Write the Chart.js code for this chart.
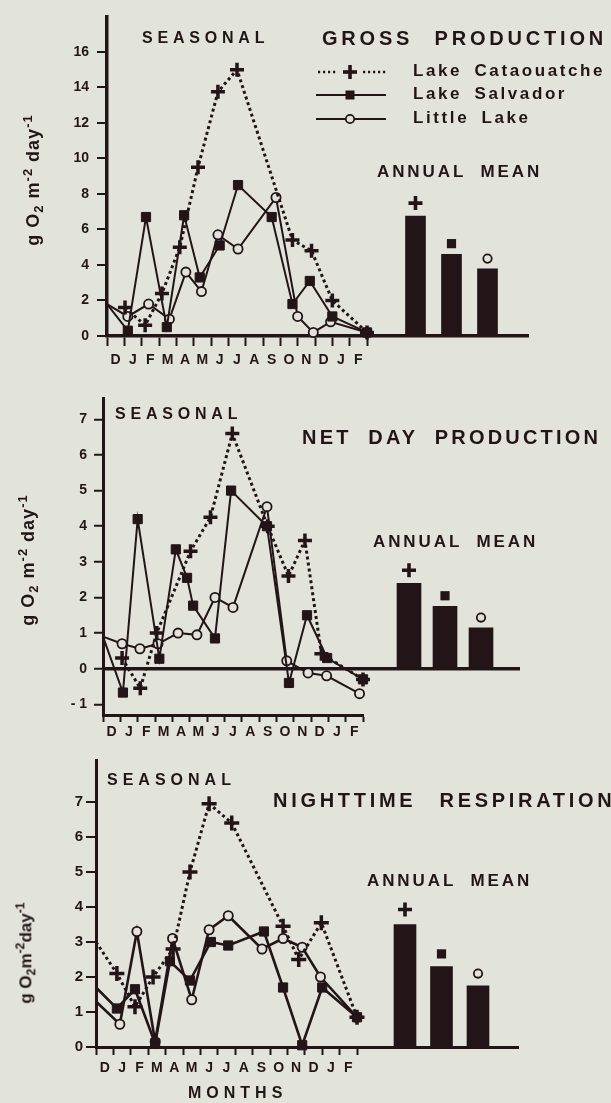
<!DOCTYPE html>
<html>
<head>
<meta charset="utf-8">
<script src="https://cdn.jsdelivr.net/npm/chart.js@4.4.0/dist/chart.umd.min.js"></script>
<style>
  html,body{margin:0;padding:0;}
  body{width:611px;height:1103px;overflow:hidden;position:relative;background:#e2e4db;
       font-family:"Liberation Sans",Arial,Helvetica,sans-serif;color:#231517;}
  canvas{position:absolute;}
  .t{position:absolute;white-space:nowrap;font-weight:bold;line-height:1;}
  .yt{position:absolute;white-space:nowrap;font-weight:bold;line-height:1;
      transform:translate(-50%,-50%) rotate(-90deg);letter-spacing:1px;}
  .yt sub,.yt sup{font-size:0.72em;}
  svg{position:absolute;overflow:visible;}
</style>
</head>
<body>
<canvas id="l1" width="380" height="380" style="left:0;top:0"></canvas>
<canvas id="b1" width="175" height="380" style="left:367px;top:0"></canvas>
<canvas id="l2" width="380" height="380" style="left:0;top:380px"></canvas>
<canvas id="b2" width="170" height="380" style="left:363px;top:380px"></canvas>
<canvas id="l3" width="380" height="363" style="left:0;top:740px"></canvas>
<canvas id="b3" width="170" height="363" style="left:357px;top:740px"></canvas>

<div class="t" style="left:142px;top:30px;font-size:16px;letter-spacing:4.8px">SEASONAL</div>
<div class="t" style="left:322px;top:28px;font-size:20px;letter-spacing:3.8px;word-spacing:12px">GROSS PRODUCTION</div>
<div class="t" style="left:377px;top:163px;font-size:17px;letter-spacing:2.9px;word-spacing:7px">ANNUAL MEAN</div>
<div class="yt" style="left:34px;top:180px;font-size:18px">g O<sub>2</sub> m<sup>-2</sup> day<sup>-1</sup></div>

<div class="t" style="left:115px;top:406px;font-size:16px;letter-spacing:4.8px">SEASONAL</div>
<div class="t" style="left:302px;top:427px;font-size:20px;letter-spacing:3.2px;word-spacing:8px">NET DAY PRODUCTION</div>
<div class="t" style="left:373px;top:533px;font-size:17px;letter-spacing:2.9px;word-spacing:7px">ANNUAL MEAN</div>
<div class="yt" style="left:29px;top:560px;font-size:18px">g O<sub>2</sub> m<sup>-2</sup> day<sup>-1</sup></div>

<div class="t" style="left:107px;top:772px;font-size:16px;letter-spacing:5px">SEASONAL</div>
<div class="t" style="left:273px;top:790px;font-size:20px;letter-spacing:3.7px;word-spacing:14px">NIGHTTIME RESPIRATION</div>
<div class="t" style="left:367px;top:872px;font-size:17px;letter-spacing:2.9px;word-spacing:7px">ANNUAL MEAN</div>
<div class="yt" style="left:26px;top:953px;font-size:17px;letter-spacing:0">g O<sub>2</sub>m<sup>-2</sup>day<sup>-1</sup></div>
<div class="t" style="left:188px;top:1085px;font-size:16px;letter-spacing:5px">MONTHS</div>

<script>
// ---------------- DATA ----------------
const monthLabels = ['D','J','F','M','A','M','J','J','A','S','O','N','D','J','F'];
const monthTicks = [0,1,2,3,4,5,6,7,8,9,10,11,12,13,14,15];
const lakeNames = ['Lake Cataouatche','Lake Salvador','Little Lake'];

const grossTicks = [0,2,4,6,8,10,12,14,16];
const netTicks = [-1,0,1,2,3,4,5,6,7];
const respTicks = [0,1,2,3,4,5,6,7];

// Gross production (x = months after 1 December)
const grossCataT = [1.04, 2.2, 3.17, 4.2, 5.25, 6.4, 7.5, 10.7, 11.8, 13.0, 15];
const grossCataV = [1.6, 0.6, 2.4, 5.0, 9.5, 13.75, 15.0, 5.4, 4.8, 2.0, 0.2];
const grossSalvT = [0, 1.2, 2.25, 3.45, 4.45, 5.35, 6.5, 7.56, 9.5, 10.7, 11.7, 13.0, 15];
const grossSalvV = [1.8, 0.3, 6.7, 0.5, 6.8, 3.3, 5.1, 8.5, 6.7, 1.8, 3.1, 1.1, 0.2];
const grossLittT = [0, 1.2, 2.4, 3.6, 4.55, 5.45, 6.4, 7.56, 9.75, 11.0, 11.9, 12.9, 15];
const grossLittV = [1.8, 1.1, 1.8, 0.95, 3.6, 2.5, 5.7, 4.9, 7.8, 1.1, 0.2, 0.8, 0.2];
const grossAnnual = [6.6, 4.5, 3.7];

// Net day production
const netCataT = [1.1, 2.15, 3.1, 5.05, 6.2, 7.46, 9.5, 10.7, 11.65, 12.6, 15];
const netCataV = [0.3, -0.55, 1.0, 3.3, 4.25, 6.6, 4.0, 2.6, 3.6, 0.42, -0.3];
const netSalvT = [0, 1.15, 2.0, 3.25, 4.2, 4.85, 5.2, 6.46, 7.39, 9.46, 10.73, 11.77, 12.93, 15];
const netSalvV = [0.9, -0.67, 4.2, 0.28, 3.35, 2.55, 1.77, 0.85, 5.0, 4.0, -0.4, 1.5, 0.3, -0.3];
const netLittT = [0, 1.1, 2.13, 3.17, 4.33, 5.42, 6.46, 7.5, 9.46, 10.6, 11.83, 12.9, 14.8];
const netLittV = [0.9, 0.7, 0.56, 0.7, 1.0, 0.95, 2.0, 1.72, 4.55, 0.22, -0.12, -0.2, -0.7];
const netAnnual = [2.4, 1.75, 1.15];

// Nighttime respiration
const respCataT = [0, 1.2, 2.24, 3.28, 4.43, 5.4, 6.5, 7.8, 10.75, 11.65, 12.95, 15];
const respCataV = [3.0, 2.1, 1.15, 2.0, 2.8, 5.0, 6.95, 6.4, 3.45, 2.5, 3.55, 0.85];
const respSalvT = [0, 1.2, 2.24, 3.4, 4.25, 5.4, 6.6, 7.6, 9.65, 10.75, 11.85, 13.0, 15];
const respSalvV = [1.7, 1.1, 1.65, 0.1, 2.45, 1.9, 3.0, 2.9, 3.3, 1.7, 0.05, 1.7, 0.85];
const respLittT = [0, 1.37, 2.35, 3.4, 4.4, 5.5, 6.5, 7.6, 9.54, 10.75, 11.85, 12.9, 15];
const respLittV = [1.3, 0.65, 3.3, 0.15, 3.1, 1.35, 3.35, 3.75, 2.8, 3.1, 2.85, 2.0, 0.85];
const respAnnual = [3.5, 2.3, 1.75];

// ---------------- STYLE ----------------
const ink = '#231517';
const bg = '#e2e4db';
const FONT = '"Liberation Sans", Arial, Helvetica, sans-serif';
Chart.defaults.font.family = FONT;
Chart.defaults.color = ink;

const pointStyles = ['cross', 'rect', 'circle'];

function xy(t, v) { return t.map((x, i) => ({x: x, y: v[i]})); }

function lineChart(id, p, series) {
  const ds = series.map((s, i) => {
    const r = i === 0 ? p.cr : (i === 1 ? 6.5 : 4.6);
    return {
      label: lakeNames[i],
      data: xy(s[0], s[1]),
      borderColor: ink,
      backgroundColor: i === 2 ? bg : ink,
      borderWidth: i === 0 ? 3 : p.lw,
      borderDash: i === 0 ? [3, 3] : [],
      pointStyle: pointStyles[i],
      // starting points on the axis carry no marker
      pointRadius: c => (c.raw && c.raw.x === 0) ? 0 : r,
      pointBorderWidth: i === 0 ? 3.5 : (i === 1 ? 1 : 1.8),
      pointBackgroundColor: i === 2 ? bg : ink,
      pointBorderColor: ink,
      tension: 0, fill: false, clip: false
    };
  });
  return new Chart(document.getElementById(id), {
    type: 'line',
    data: {datasets: ds},
    options: {
      responsive: false, animation: false, events: [],
      layout: {autoPadding: false, padding: {top: p.top, right: p.right, left: 0, bottom: 0}},
      plugins: {legend: {display: false}, tooltip: {enabled: false}},
      scales: {
        x: {
          type: 'linear', min: 0, max: 15,
          afterBuildTicks: s => { s.ticks = monthTicks.map(v => ({value: v})); },
          afterFit: s => { s.height = p.xh; },
          ticks: {callback: (v, i) => monthLabels[i] || '', autoSkip: false, maxRotation: 0, minRotation: 0,
                  labelOffset: p.lo, padding: p.xpad, color: ink, font: {size: 14, weight: 'bold'}},
          grid: {drawOnChartArea: false, drawTicks: true, tickLength: p.xtl, tickWidth: 2, tickColor: ink, color: ink},
          border: {display: true, color: ink, width: p.bw}
        },
        y: {
          type: 'linear', min: p.ymin, max: p.ymax,
          afterBuildTicks: s => { s.ticks = p.ticks.map(v => ({value: v})); },
          afterFit: s => { s.width = p.yw; },
          ticks: {callback: v => v < 0 ? '- ' + (-v) : String(v), padding: p.ypad, color: ink,
                  font: {size: p.fs, weight: 'bold'}},
          grid: {drawOnChartArea: p.zero, drawTicks: true, tickLength: p.ytl, tickWidth: 2, tickColor: ink,
                 color: c => (c.tick && c.tick.value === 0) ? ink : 'rgba(0,0,0,0)', lineWidth: p.zw},
          border: {display: true, color: ink, width: p.bw}
        }
      }
    }
  });
}

function drawMarker(ctx, style, x, y, r) {
  ctx.save();
  ctx.fillStyle = ink; ctx.strokeStyle = ink;
  if (style === 'cross') {
    ctx.lineWidth = 3.6;
    ctx.beginPath();
    ctx.moveTo(x - r, y); ctx.lineTo(x + r, y);
    ctx.moveTo(x, y - r); ctx.lineTo(x, y + r);
    ctx.stroke();
  } else if (style === 'rect') {
    ctx.fillRect(x - r, y - r, 2 * r, 2 * r);
  } else {
    ctx.lineWidth = 1.8; ctx.fillStyle = bg;
    ctx.beginPath(); ctx.arc(x, y, r, 0, Math.PI * 2); ctx.fill(); ctx.stroke();
  }
  ctx.restore();
}

const markerPlugin = {
  id: 'barMarkers',
  afterDatasetsDraw(chart, args, opts) {
    const meta = chart.getDatasetMeta(0);
    const sizes = [7, 4.6, 4.2];
    meta.data.forEach((bar, i) => {
      const r = sizes[i];
      drawMarker(chart.ctx, pointStyles[i], bar.x, bar.y - r - opts.gap, r);
    });
  }
};

function barChart(id, p, vals) {
  return new Chart(document.getElementById(id), {
    type: 'bar',
    data: {labels: lakeNames, datasets: [{
      label: 'Annual mean',
      data: vals.map((v, i) => ({x: i + 1, y: v})),
      backgroundColor: ink, borderWidth: 0, barThickness: p.bt
    }]},
    options: {
      responsive: false, animation: false, events: [],
      layout: {autoPadding: false, padding: {top: p.top, right: p.bright, left: 0, bottom: 0}},
      plugins: {legend: {display: false}, tooltip: {enabled: false}, barMarkers: {gap: p.gap}},
      scales: {
        x: {
          type: 'linear', offset: false, min: p.bmin, max: p.bmax,
          afterFit: s => { s.height = p.xh; },
          ticks: {display: false},
          grid: {display: true, drawOnChartArea: false, drawTicks: false},
          border: {display: !p.zero, color: ink, width: p.bw}
        },
        y: {
          type: 'linear', min: p.ymin, max: p.ymax,
          afterBuildTicks: s => { s.ticks = p.ticks.map(v => ({value: v})); },
          afterFit: s => { s.width = 0; },
          ticks: {display: false},
          grid: {display: p.zero, drawOnChartArea: true, drawTicks: false,
                 color: c => (c.tick && c.tick.value === 0) ? ink : 'rgba(0,0,0,0)', lineWidth: p.zw},
          border: {display: false}
        }
      }
    },
    plugins: [markerPlugin]
  });
}

// ---------------- PANELS ----------------
const P1 = {top: 9, right: 13, yw: 107, xh: 44, ymin: 0, ymax: 18, ticks: grossTicks,
  xtl: 10, xpad: 6, lo: 8.67, ytl: 10, ypad: 8, bw: 3.5, zero: false, zw: 0, lw: 2, cr: 7, fs: 14,
  bright: 14, bmin: -0.347, bmax: 4.125, bt: 20, gap: 6};
const P2 = {top: 18, right: 17, yw: 103, xh: 45, ymin: -1.3, ymax: 7.6, ticks: netTicks,
  xtl: 7, xpad: 2, lo: 8.67, ytl: 9, ypad: 7, bw: 3, zero: true, zw: 3.5, lw: 2, cr: 7, fs: 14,
  bright: 13, bmin: -0.278, bmax: 4.083, bt: 24, gap: 6};
const P3 = {top: 20, right: 23, yw: 96, xh: 56, ymin: 0, ymax: 8.2, ticks: respTicks,
  xtl: 8, xpad: 5, lo: 8.7, ytl: 10, ypad: 3, bw: 3, zero: false, zw: 0, lw: 2.6, cr: 7.5, fs: 15,
  bright: 9, bmin: -0.315, bmax: 4.096, bt: 22, gap: 8};

lineChart('l1', P1, [[grossCataT, grossCataV], [grossSalvT, grossSalvV], [grossLittT, grossLittV]]);
barChart('b1', P1, grossAnnual);
lineChart('l2', P2, [[netCataT, netCataV], [netSalvT, netSalvV], [netLittT, netLittV]]);
barChart('b2', P2, netAnnual);
lineChart('l3', P3, [[respCataT, respCataV], [respSalvT, respSalvV], [respLittT, respLittV]]);
barChart('b3', P3, respAnnual);

// ---------------- LEGEND ----------------
const rowY = [72, 95, 119];
lakeNames.forEach((name, i) => {
  const y = rowY[i];
  let sym;
  if (i === 0) {
    sym = '<line x1="2" y1="8" x2="70" y2="8" stroke="' + ink + '" stroke-width="2.5" stroke-dasharray="2.2 2.8"/>' +
          '<rect x="22" y="2" width="24" height="12" fill="' + bg + '"/>' +
          '<line x1="27" y1="8" x2="41" y2="8" stroke="' + ink + '" stroke-width="3.6"/>' +
          '<line x1="34" y1="1" x2="34" y2="15" stroke="' + ink + '" stroke-width="3.6"/>';
  } else if (i === 1) {
    sym = '<line x1="0" y1="8" x2="70" y2="8" stroke="' + ink + '" stroke-width="2.2"/>' +
          '<rect x="29.5" y="3.5" width="9" height="9" fill="' + ink + '"/>';
  } else {
    sym = '<line x1="0" y1="8" x2="70" y2="8" stroke="' + ink + '" stroke-width="2.2"/>' +
          '<circle cx="34" cy="8" r="4.2" fill="' + bg + '" stroke="' + ink + '" stroke-width="1.8"/>';
  }
  const svg = document.createElementNS('http://www.w3.org/2000/svg', 'svg');
  svg.setAttribute('width', '72'); svg.setAttribute('height', '16');
  svg.style.left = '316px'; svg.style.top = (y - 8) + 'px';
  svg.innerHTML = sym;
  document.body.appendChild(svg);
  const d = document.createElement('div');
  d.className = 't';
  d.style.cssText = 'left:413px;top:' + (y - 2 - 8.2) + 'px;font-size:17px;letter-spacing:2.6px;word-spacing:5px;';
  d.textContent = name;
  document.body.appendChild(d);
});
</script>
</body>
</html>
